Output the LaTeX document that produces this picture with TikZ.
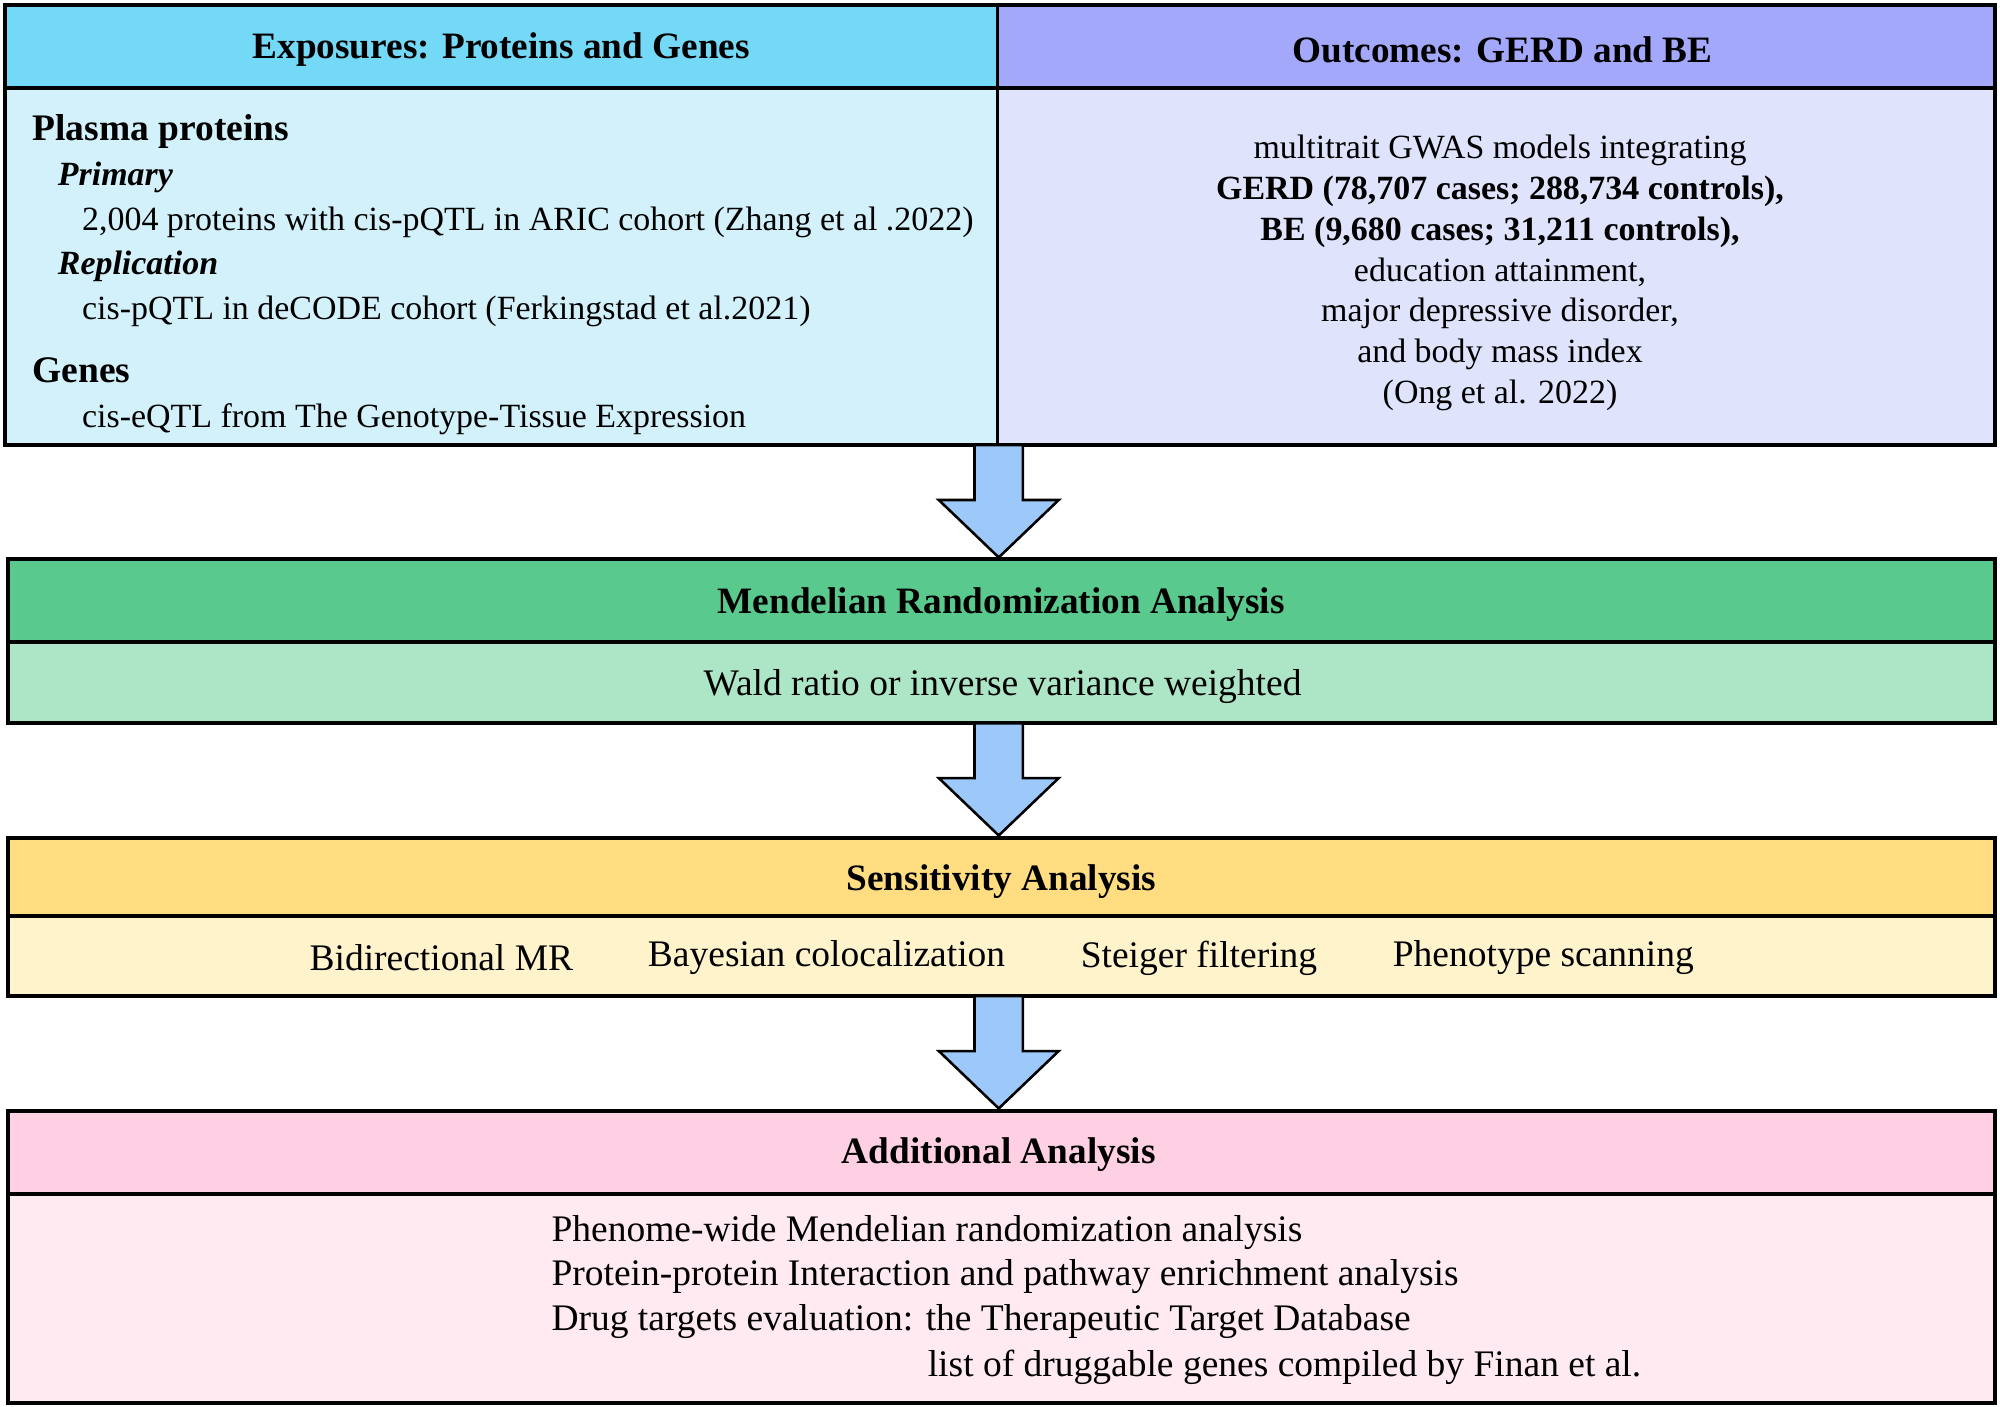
\documentclass[tikz,border=0pt]{standalone}
\usepackage{fontspec}
\setmainfont{Liberation Serif}
\usetikzlibrary{positioning}
\definecolor{expHead}{HTML}{73D9F7}
\definecolor{expBody}{HTML}{D3F1FB}
\definecolor{outHead}{HTML}{A3A8FA}
\definecolor{outBody}{HTML}{E0E3FC}
\definecolor{mrHead}{HTML}{5AC98D}
\definecolor{mrBody}{HTML}{ACE6C6}
\definecolor{senHead}{HTML}{FFDD80}
\definecolor{senBody}{HTML}{FFF3CC}
\definecolor{addHead}{HTML}{FFD0E3}
\definecolor{addBody}{HTML}{FFEAF2}
\definecolor{flow}{HTML}{9DC9FA}
\tikzset{
    box/.style={draw, line width=1.5pt},
    txt/.style={font=\fontsize{13.3}{15}\selectfont, inner sep=0pt},
    big/.style={txt, font=\fontsize{14.7}{17}\selectfont},
    head/.style={txt, font=\fontsize{14.6}{17}\selectfont\bfseries},
    pics/flow arrow/.style={
        code={
            \filldraw[fill=flow, line width=1pt] (-19,0) -- (-19,43) -- (-47,43) -- (0,88)
                -- (47,43) -- (19,43) -- (19,0) -- cycle;
        }},
}
\begin{document}
\begin{tikzpicture}[x=0.5pt, y=-0.5pt]

    \useasboundingbox (0,0) rectangle (1568,1103);

    % top boxes
    \filldraw[box, fill=expHead] (4,4) rectangle (782,69);
    \filldraw[box, fill=outHead] (782,4) rectangle (1564,69);
    \filldraw[box, fill=expBody] (4,69) rectangle (782,349);
    \filldraw[box, fill=outBody] (782,69) rectangle (1564,349);
    \node[head] (expT) at (393,39) {Exposures: Proteins and Genes};
    \node[head] (outT) at (1178,39) {Outcomes: GERD and BE};

    \node[txt, anchor=west, font=\fontsize{14.7}{17}\selectfont\bfseries] (pp) at (25,103) {Plasma proteins};
    \node[txt, anchor=west, font=\fontsize{13.3}{15}\selectfont\bfseries\itshape] (prim) at (45,139) {Primary};
    \node[txt, anchor=west] (primL) at (64,174) {2,004 proteins with cis-pQTL in ARIC cohort (Zhang et al .2022)};
    \node[txt, anchor=west, font=\fontsize{13.3}{15}\selectfont\bfseries\itshape] (repl) at (45,209) {Replication};
    \node[txt, anchor=west] (replL) at (64,244) {cis-pQTL in deCODE cohort (Ferkingstad et al.2021)};
    \node[txt, anchor=west, font=\fontsize{14.7}{17}\selectfont\bfseries] (genes) at (25,290) {Genes};
    \node[txt, anchor=west] (genesL) at (64,329) {cis-eQTL from The Genotype-Tissue Expression};

    \node[txt, align=center, font=\fontsize{13.3}{16}\selectfont] (outL) at (1176,214)
        {multitrait GWAS models integrating\\
         \textbf{GERD (78,707 cases; 288,734 controls),}\\
         \textbf{BE (9,680 cases; 31,211 controls),}\\
         education attainment,\\
         major depressive disorder,\\
         and body mass index\\
         (Ong et al. 2022)};

    % MR
    \filldraw[box, fill=mrHead] (6,438) rectangle (1564,503);
    \filldraw[box, fill=mrBody] (6,503) rectangle (1564,567);
    \node[head] (mrT) at (785,474) {Mendelian Randomization Analysis};
    \node[big] (mrL) at (786,538) {Wald ratio or inverse variance weighted};

    % sensitivity
    \filldraw[box, fill=senHead] (6,657) rectangle (1564,718);
    \filldraw[box, fill=senBody] (6,718) rectangle (1564,781);
    \node[head] (senT) at (785,691) {Sensitivity Analysis};
    \node[big] (sen1) at (346,751) {Bidirectional MR};
    \node[big] (sen2) at (648,751) {Bayesian colocalization};
    \node[big] (sen3) at (940,751) {Steiger filtering};
    \node[big] (sen4) at (1210,751) {Phenotype scanning};

    % additional
    \filldraw[box, fill=addHead] (6,871) rectangle (1564,936);
    \filldraw[box, fill=addBody] (6,936) rectangle (1564,1100);
    \node[head] (addT) at (783,905) {Additional Analysis};
    \node[big, anchor=west] (add1) at (432,966) {Phenome-wide Mendelian randomization analysis};
    \node[big, anchor=west] (add2) at (432,1001) {Protein-protein Interaction and pathway enrichment analysis};
    \node[big, anchor=west] (add3) at (432,1036) {Drug targets evaluation: the Therapeutic Target Database};
    \node[big, anchor=west] (add4) at (727,1072) {list of druggable genes compiled by Finan et al.};

    % flow arrows
    \pic at (783,349) {flow arrow};
    \pic at (783,567) {flow arrow};
    \pic at (783,781) {flow arrow};

\end{tikzpicture}
\end{document}
